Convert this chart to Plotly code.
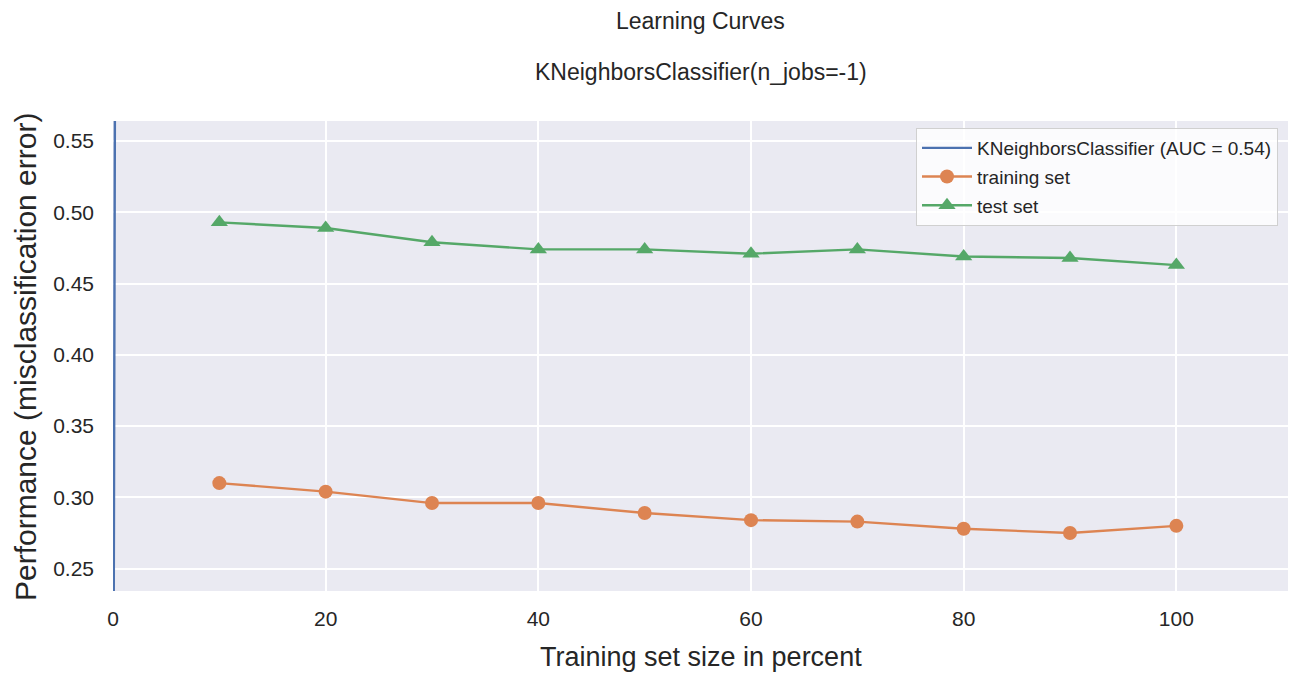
import plotly.graph_objects as go

# ROC leftover curve (fpr, tpr) drawn on the same axes
roc_fpr = [0, 0.25, 1]
roc_tpr = [0, 0.8, 1]
roc_label = "KNeighborsClassifier (AUC = 0.54)"

train_size_pct = [10, 20, 30, 40, 50, 60, 70, 80, 90, 100]
train_error = [0.310, 0.304, 0.296, 0.296, 0.289, 0.284, 0.283, 0.278, 0.275, 0.280]
test_error = [0.493, 0.489, 0.479, 0.474, 0.474, 0.471, 0.474, 0.469, 0.468, 0.463]

x_ticks = [0, 20, 40, 60, 80, 100]
y_ticks = [0.25, 0.30, 0.35, 0.40, 0.45, 0.50, 0.55]

BLUE = "#4C72B0"
ORANGE = "#DD8452"
GREEN = "#55A868"
TXT = "#262626"
FONT = "Liberation Sans, Arial, sans-serif"

fig = go.Figure()
fig.add_trace(go.Scatter(x=roc_fpr, y=roc_tpr, mode="lines", name=roc_label,
                         legendgroup="a",
                         line=dict(color=BLUE, width=2.4)))
fig.add_trace(go.Scatter(x=train_size_pct, y=train_error, mode="lines+markers",
                         name="training set", legendgroup="b",
                         line=dict(color=ORANGE, width=2.4),
                         marker=dict(symbol="circle", size=14, color=ORANGE)))
fig.add_trace(go.Scatter(x=train_size_pct, y=test_error, mode="lines+markers",
                         name="test set", legendgroup="c",
                         line=dict(color=GREEN, width=2.4),
                         marker=dict(symbol="triangle-up", size=15, color=GREEN)))

T, B, L, R = 121, 86, 113, 3
plot_h = 677 - T - B
plot_w = 1291 - L - R

def ypix(p):
    return (677 - B - p) / plot_h

def xpix(p):
    return (p - L) / plot_w

fig.update_layout(
    width=1291, height=677,
    margin=dict(l=L, r=R, t=T, b=B),
    paper_bgcolor="white",
    plot_bgcolor="#EAEAF2",
    font=dict(family=FONT, color=TXT, size=21),
    showlegend=True,
    legend=dict(x=xpix(1278), y=ypix(128), xanchor="right", yanchor="top",
                bgcolor="rgba(255,255,255,0.8)", bordercolor="#D0D0D0", borderwidth=1,
                font=dict(size=19, color=TXT), tracegroupgap=1, itemwidth=50),
    annotations=[
        dict(text="Learning Curves", x=0.5, xref="paper", y=ypix(21), yref="paper",
             yanchor="middle", showarrow=False, font=dict(size=23, color=TXT)),
        dict(text="KNeighborsClassifier(n_jobs=-1)", x=0.5, xref="paper", y=ypix(72), yref="paper",
             yanchor="middle", showarrow=False, font=dict(size=23, color=TXT)),
        dict(text="Training set size in percent", x=0.5, xref="paper", y=ypix(657), yref="paper",
             yanchor="middle", showarrow=False, font=dict(size=27, color=TXT)),
        dict(text="Performance (misclassification error)", x=xpix(25), xref="paper",
             y=ypix(357), yref="paper", xanchor="center", yanchor="middle", textangle=-90,
             showarrow=False, font=dict(size=30, color=TXT)),
    ],
)

fig.update_xaxes(range=[0, 110.5], tickvals=x_ticks, ticktext=[str(v) for v in x_ticks],
                 showgrid=True, gridcolor="white", gridwidth=1.6, zeroline=False,
                 showline=False, ticks="", tickfont=dict(size=21, color=TXT),
                 ticklabelstandoff=13)
fig.update_yaxes(range=[0.2343, 0.5641], tickvals=y_ticks,
                 ticktext=[f"{v:.2f}" for v in y_ticks],
                 showgrid=True, gridcolor="white", gridwidth=1.6, zeroline=False,
                 showline=False, ticks="", tickfont=dict(size=21, color=TXT),
                 ticklabelstandoff=18)

fig.write_html("out.html")
